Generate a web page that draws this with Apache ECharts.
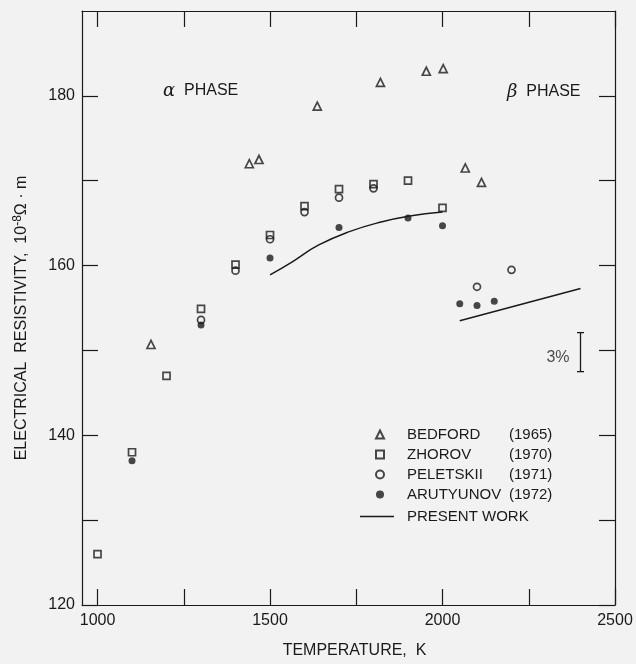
<!DOCTYPE html>
<html>
<head>
<meta charset="utf-8">
<script src="https://cdn.jsdelivr.net/npm/echarts@6/dist/echarts.min.js"></script>
<style>
  html, body { margin: 0; padding: 0; background: #f2f2f2; }
  #chart { width: 636px; height: 664px; }
</style>
</head>
<body>
<div id="chart"></div>
<script>
// values (temperature K, resistivity 10^-8 ohm m)
const bedford = [[1155, 150.7], [1440, 172.0], [1468, 172.5], [1637, 178.8], [1820, 181.6],
                 [1953, 182.9], [2002, 183.2], [2066, 171.5], [2113, 169.8]];
const zhorov = [[1000, 126.0], [1100, 138.0], [1200, 147.0], [1300, 154.9], [1400, 160.1],
                [1500, 163.6], [1600, 167.0], [1700, 169.0], [1800, 169.6], [1900, 170.0], [2000, 166.8]];
const peletskii = [[1300, 153.6], [1400, 159.4], [1500, 163.1], [1600, 166.3], [1700, 168.0],
                   [1800, 169.1], [2100, 157.5], [2200, 159.5]];
const arutyunov = [[1100, 137.0], [1300, 153.0], [1500, 160.9], [1700, 164.5], [1900, 165.6],
                   [2000, 164.7], [2050, 155.5], [2100, 155.3], [2150, 155.8]];
const presentAlpha = [[1500, 158.9], [1567, 160.5], [1640, 162.4], [1730, 164.0], [1828, 165.2],
                      [1900, 165.8], [2000, 166.3]];
const presentBeta = [[2050, 153.5], [2400, 157.3]];
const errBar = [[2400, 152.1], [2400, 147.5]];
const errLabelAt = [[2400, 149.2]];

const markerNames = ['BEDFORD', 'ZHOROV', 'PELETSKII', 'ARUTYUNOV'];
const markerYears = ['(1965)', '(1970)', '(1971)', '(1972)'];
const lineName = 'PRESENT WORK';

const xTicks = [1000, 1250, 1500, 1750, 2000, 2250, 2500];
const xLabels = [1000, 1500, 2000, 2500];
const yTicks = [120, 130, 140, 150, 160, 170, 180];
const yLabels = [120, 140, 160, 180];

const ink = '#1a1a1a';
const font = 'Liberation Sans';
const fs = 16;

const chart = echarts.init(document.getElementById('chart'));

const tickStyle = { show: true, inside: true, length: 16, lineStyle: { color: ink, width: 1.2 } };
const lineStyle = { show: true, lineStyle: { color: ink, width: 1.2 } };

function hollow(color) {
    return { color: 'rgba(0,0,0,0)', borderColor: color, borderWidth: 1.7 };
}

const legendText = {
    fontFamily: font, fontSize: 15, color: ink,
    rich: {
        n: { fontFamily: font, fontSize: 15, color: ink, width: 102, lineHeight: 15, padding: [0, 0, 0, 18] },
        m: { fontFamily: font, fontSize: 15, color: ink, lineHeight: 15, padding: [0, 0, 0, 8] },
        y: { fontFamily: font, fontSize: 15, color: ink, lineHeight: 15 }
    }
};

chart.setOption({
    backgroundColor: '#f2f2f2',
    animation: false,
    textStyle: { fontFamily: font, color: ink },
    grid: { left: 82, right: 21, top: 11, bottom: 55 },
    xAxis: [{
        type: 'value', min: 955, max: 2500,
        name: 'TEMPERATURE,  K', nameLocation: 'middle', nameGap: 38,
        nameTextStyle: { fontSize: fs, color: ink, fontFamily: font, padding: [0, 0, 0, 12] },
        axisLine: lineStyle,
        axisTick: Object.assign({ customValues: xTicks }, tickStyle),
        axisLabel: { customValues: xLabels, fontSize: fs, color: ink, margin: 8, formatter: v => String(v) },
        splitLine: { show: false }
    }, {
        type: 'value', min: 955, max: 2500, position: 'top',
        axisLine: lineStyle,
        axisTick: Object.assign({ customValues: xTicks }, tickStyle),
        axisLabel: { show: false },
        splitLine: { show: false }
    }],
    yAxis: [{
        type: 'value', min: 120, max: 190,
        name: 'ELECTRICAL  RESISTIVITY,  10{sup|-8}Ω · m', nameLocation: 'middle', nameGap: 50,
        nameTextStyle: {
            fontSize: fs, color: ink, fontFamily: font, padding: [0, 20, 0, 0],
            rich: { sup: { fontSize: 12, color: ink, fontFamily: font, padding: [0, 0, 8, 0] } }
        },
        axisLine: lineStyle,
        axisTick: Object.assign({ customValues: yTicks }, tickStyle),
        axisLabel: { customValues: yLabels, fontSize: fs, color: ink, margin: 7, formatter: v => String(v) },
        splitLine: { show: false }
    }, {
        type: 'value', min: 120, max: 190, position: 'right',
        axisLine: lineStyle,
        axisTick: Object.assign({ customValues: yTicks }, tickStyle),
        axisLabel: { show: false },
        splitLine: { show: false }
    }],
    legend: [{
        data: markerNames,
        orient: 'vertical', left: 370, top: 422,
        itemWidth: 8, itemHeight: 8, itemGap: 5,
        selectedMode: false,
        formatter: name => '{n|' + name + '}{y|' + markerYears[markerNames.indexOf(name)] + '}',
        textStyle: legendText
    }, {
        data: [{ name: lineName, icon: 'path://M0,0H34V1.5H0Z' }],
        orient: 'vertical', left: 355, top: 504,
        itemWidth: 34, itemHeight: 8,
        selectedMode: false,
        formatter: name => '{m|' + name + '}',
        textStyle: legendText
    }],
    graphic: [
        { type: 'text', left: 163, top: 82,
          style: { text: '{g|α}  PHASE', font: fs + 'px ' + font, fill: ink,
                   rich: { g: { fontStyle: 'italic', fontSize: 18, fontFamily: 'DejaVu Serif', fill: ink } } } },
        { type: 'text', left: 507, top: 83,
          style: { text: '{g|β}  PHASE', font: fs + 'px ' + font, fill: ink,
                   rich: { g: { fontStyle: 'italic', fontSize: 18, fontFamily: 'DejaVu Serif', fill: ink } } } }
    ],
    series: [
        { name: 'BEDFORD', type: 'scatter', data: bedford, symbol: 'triangle', symbolSize: 8, itemStyle: hollow(ink) },
        { name: 'ZHOROV', type: 'scatter', data: zhorov, symbol: 'rect', symbolSize: 7, itemStyle: hollow(ink) },
        { name: 'PELETSKII', type: 'scatter', data: peletskii, symbol: 'circle', symbolSize: 7, itemStyle: hollow(ink) },
        { name: 'ARUTYUNOV', type: 'scatter', data: arutyunov, symbol: 'circle', symbolSize: 7, itemStyle: { color: ink } },
        { name: lineName, type: 'line', data: presentAlpha, smooth: true, showSymbol: false, symbol: 'none',
          lineStyle: { color: ink, width: 1.5 }, itemStyle: { color: ink } },
        { name: lineName, type: 'line', data: presentBeta, showSymbol: false, symbol: 'none',
          lineStyle: { color: ink, width: 1.5 }, itemStyle: { color: ink } },
        { name: 'err', type: 'line', data: errBar, symbol: 'rect', symbolSize: [7, 1.3],
          lineStyle: { color: ink, width: 1.3 }, itemStyle: { color: ink } },
        { name: 'errlabel', type: 'scatter', data: errLabelAt, symbolSize: 0,
          label: { show: true, formatter: '3%', position: 'left', distance: 11, fontSize: fs, color: ink, fontFamily: font } }
    ]
});
</script>
</body>
</html>
